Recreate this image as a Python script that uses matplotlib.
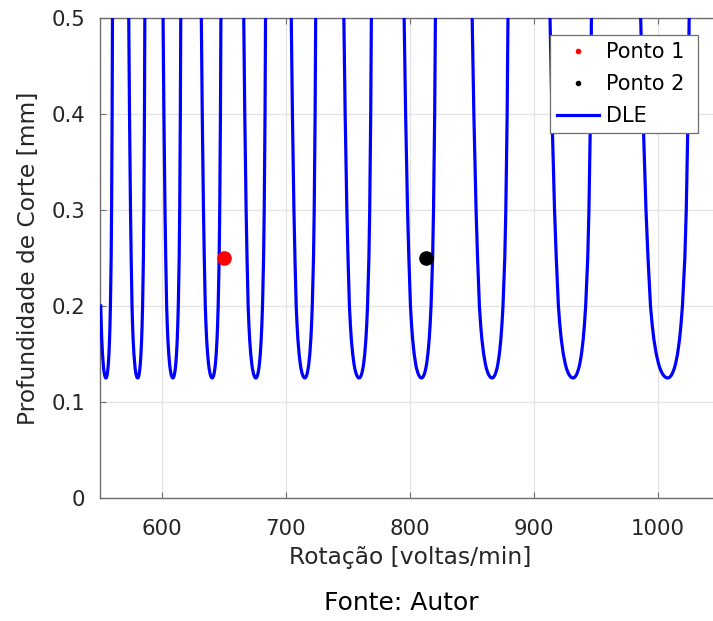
import numpy as np
import matplotlib
matplotlib.use("Agg")
import matplotlib.pyplot as plt
from matplotlib.lines import Line2D

# ---- data ----
# rotation (rpm) at the bottom of each stability lobe
lobe_min_rpm = [554.8, 580.4, 608.8, 640.5, 675.7, 715.2, 759.0, 809.3, 866.2, 931.5, 1007.8]
lobe_min_depth = 0.125  # mm

# profile of the reference lobe (bottom at 1007.8 rpm): depth levels and
# distance (rpm) of the left and right branch from the lobe bottom
ref_lobe_rpm = 1007.8
profile_depth = [0.125, 0.1253, 0.126, 0.128, 0.13, 0.135, 0.14, 0.15, 0.165,
                 0.18, 0.2, 0.25, 0.3, 0.4, 0.5]
profile_left = [0.0, 1.10, 2.05, 3.50, 4.50, 6.25, 7.40, 9.20, 11.10,
                12.45, 13.85, 15.85, 17.49, 19.91, 21.76]
profile_right = [0.0, 0.95, 1.75, 3.00, 3.85, 5.35, 6.40, 7.95, 9.55,
                 10.70, 11.90, 13.85, 14.99, 16.44, 17.33]

rpm_start = 550.0

ponto1 = (650.0, 0.25)
ponto2 = (813.0, 0.25)

x_ticks = [600, 700, 800, 900, 1000]
y_ticks = [0, 0.1, 0.2, 0.3, 0.4, 0.5]
y_ticklabels = ["0", "0.1", "0.2", "0.3", "0.4", "0.5"]

# ---- build the DLE curve ----
pd_ = np.array(profile_depth)
pl = np.array(profile_left)
pr = np.array(profile_right)
xs, ys = [], []
for n in lobe_min_rpm:
    s = (n / ref_lobe_rpm) ** 2
    xl = n - pl[::-1] * s
    xr = n + pr[1:] * s
    x = np.concatenate([xl, xr])
    y = np.concatenate([pd_[::-1], pd_[1:]])
    y = y * (lobe_min_depth / 0.125)
    keep = x >= rpm_start
    xs.append(x[keep]); ys.append(y[keep])
    xs.append([np.nan]); ys.append([np.nan])
X = np.concatenate(xs)
Y = np.concatenate(ys)

# ---- figure ----
txt = "#262626"
fig = plt.figure(figsize=(7.13, 6.21), dpi=100)
ax = fig.add_axes([100/713, 123/621, 620/713, 480/621])

ax.plot([ponto1[0]], [ponto1[1]], "o", color="red", markersize=9.5, zorder=4)
ax.plot([ponto2[0]], [ponto2[1]], "o", color="black", markersize=9.5, zorder=4)
ax.plot(X, Y, color=(0, 0, 1), linewidth=2.3, zorder=3)

ax.set_xlim(550, 1050)
ax.set_ylim(0, 0.5)
ax.set_xticks(x_ticks)
ax.set_yticks(y_ticks)
ax.set_yticklabels(y_ticklabels)
ax.grid(True, color="#e3e3e3", linewidth=0.9)
ax.set_axisbelow(True)
for sp in ax.spines.values():
    sp.set_color("#6e6e6e")
    sp.set_linewidth(1.0)
ax.tick_params(direction="in", length=4, width=0.8, color="#6e6e6e",
               top=True, right=True, labelsize=15.3, labelcolor=txt)
ax.tick_params(axis="x", pad=15)
ax.tick_params(axis="y", pad=10.8)

ax.set_xlabel("Rotação [voltas/min]", fontsize=16.8, color=txt, labelpad=5)
ax.set_ylabel("Profundidade de Corte [mm]", fontsize=16.8, color=txt, labelpad=8)

handles = [
    Line2D([], [], linestyle="none", marker="o", color="red", markersize=3),
    Line2D([], [], linestyle="none", marker="o", color="black", markersize=3),
    Line2D([], [], color=(0, 0, 1), linewidth=2.3),
]
leg = ax.legend(handles, ["Ponto 1 ", "Ponto 2 ", "DLE "], loc="upper right",
                bbox_to_anchor=(698/713, 1 - 35/621), bbox_transform=fig.transFigure,
                borderaxespad=0, fontsize=15, fancybox=False, framealpha=1,
                handlelength=2.0, handletextpad=0.35, labelspacing=0.58,
                borderpad=0.33)
leg.get_frame().set_edgecolor("#6e6e6e")
leg.get_frame().set_linewidth(0.9)

fig.text(401/713, 1 - 603/621, "Fonte: Autor", ha="center", va="center",
         fontsize=18, color="black")

fig.savefig("out.png", dpi=100)
